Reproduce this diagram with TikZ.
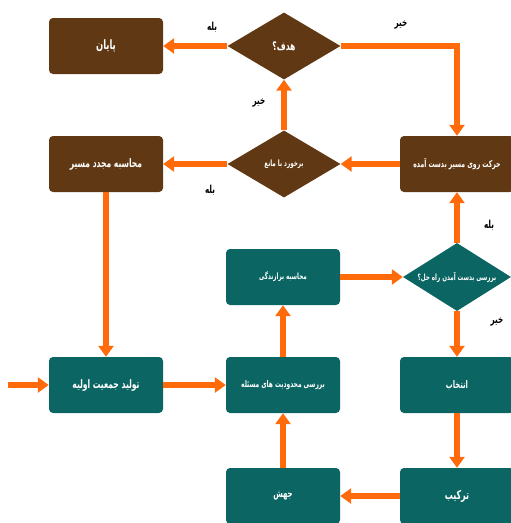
\documentclass[tikz,border=0pt]{standalone}
\usepackage{fontspec}
\TeXXeTstate=1
\newfontfamily\fa[Script=Arabic,FakeStretch=0.65]{DejaVu Sans}
\usetikzlibrary{shapes.geometric,arrows.meta}
\definecolor{brn}{HTML}{603813}
\definecolor{tl}{HTML}{0B6563}
\definecolor{org}{HTML}{FF6B0B}
\newcommand{\fs}[1]{\fontsize{#1}{#1}\selectfont}
\tikzset{
  bbox/.style={draw=none,fill=brn,rounded corners=4pt,minimum width=114pt,minimum height=56pt,inner sep=1pt,text=white,font=\fa\bfseries\fs{11.7}},
  tbox/.style={bbox,fill=tl},
  bdia/.style={diamond,draw=none,fill=brn,minimum width=113pt,minimum height=67pt,inner sep=0pt},
  tdia/.style={bdia,fill=tl},
  dtxt/.style={text=white,font=\fa\bfseries\fs{9}},
  flow/.style={draw=org,line width=5.5pt,-{Triangle[width=15pt,length=11pt]}},
  lbl/.style={font=\fa\bfseries\fs{11},text=black}
}
\begin{document}
\begin{tikzpicture}[x=1pt,y=-1pt]
\useasboundingbox (0,0) rectangle (511,523);
% brown part
\node[bbox,font=\fa\bfseries\fs{12.9}] (end) at (106,46) {\beginR پایان\endR};
\node[bdia] (goal) at (284,46) {};
\node[dtxt,font=\fa\bfseries\fs{11.8}] (goalt) at (goal.center) {\beginR هدف؟\endR};
\node[bbox] (recalc) at (106,164) {\beginR محاسبه مجدد مسیر\endR};
\node[bdia] (obst) at (284,164) {};
\node[dtxt,font=\fa\bfseries\fs{8.7}] (obstt) at (obst.center) {\beginR برخورد با مانع\endR};
\node[bbox,font=\fa\bfseries\fs{9.4}] (move) at (457,164) {\beginR حرکت روی مسیر بدست آمده\endR};
% teal part
\node[tbox,font=\fa\bfseries\fs{8.6}] (fit) at (283,277) {\beginR محاسبه برازندگی\endR};
\node[tdia,minimum width=108pt,minimum height=68pt] (check) at (457,277) {};
\node[dtxt,font=\fa\bfseries\fs{8.6}] (checkt) at (check.center) {\beginR بررسی بدست آمدن راه حل؟\endR};
\node[tbox] (init) at (106,385) {\beginR تولید جمعیت اولیه\endR};
\node[tbox,font=\fa\bfseries\fs{9.1}] (cons) at (283,385) {\beginR بررسی محدودیت های مسئله\endR};
\node[tbox,font=\fa\bfseries\fs{10.5}] (sel) at (457,385) {\beginR انتخاب\endR};
\node[tbox,font=\fa\bfseries\fs{10.7}] (mut) at (283,496) {\beginR جهش\endR};
\node[tbox,font=\fa\bfseries\fs{12.3}] (cross) at (457,496) {\beginR ترکیب\endR};
\coordinate (in) at (8,385);
% arrows
\draw[flow] (goal.west) -- (end.east);
\draw[flow] (goal.east) -| (move.north);
\draw[flow] (obst.north) -- (goal.south);
\draw[flow] (move.west) -- (obst.east);
\draw[flow] (obst.west) -- (recalc.east);
\draw[flow] (recalc.south) -- (init.north);
\draw[flow] (in) -- (init.west);
\draw[flow] (init.east) -- (cons.west);
\draw[flow] (cons.north) -- (fit.south);
\draw[flow] (fit.east) -- (check.west);
\draw[flow] (check.north) -- (move.south);
\draw[flow] (check.south) -- (sel.north);
\draw[flow] (sel.south) -- (cross.north);
\draw[flow] (cross.west) -- (mut.east);
\draw[flow] (mut.north) -- (cons.south);
% labels
\node[lbl] (l1) at (212,27) {\beginR بله\endR};
\node[lbl] (l2) at (401,25) {\beginR خیر\endR};
\node[lbl] (l3) at (259,103) {\beginR خیر\endR};
\node[lbl] (l4) at (210,190) {\beginR بله\endR};
\node[lbl] (l5) at (489,225) {\beginR بله\endR};
\node[lbl] (l6) at (497,322) {\beginR خیر\endR};
\end{tikzpicture}
\end{document}
